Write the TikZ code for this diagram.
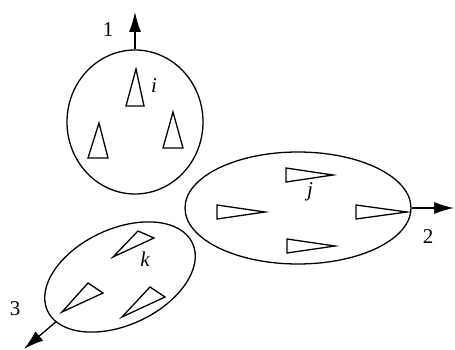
\documentclass[tikz,border=0pt]{standalone}
\usepackage{fontspec}
\setmainfont{Liberation Serif}
\usetikzlibrary{shapes.geometric,arrows.meta}
\begin{document}
\begin{tikzpicture}[x=1pt,y=-1pt,
  grp/.style={draw,ellipse,line width=1.3pt,inner sep=0pt},
  tri/.style={draw,line width=1.3pt,line join=miter},
  outarrow/.style={line width=1.3pt,-{Latex[length=20pt,width=12pt]}},
  lbl/.style={font=\fontsize{21}{23}\selectfont,inner sep=0pt}]
\useasboundingbox (0,0) rectangle (455,350);
% groups
\node[grp,minimum width=136pt,minimum height=144pt] (ei) at (135,122) {};
\node[grp,minimum width=226pt,minimum height=112pt] (ej) at (298,208) {};
\node[grp,minimum width=160pt,minimum height=96pt,rotate=25] (ek) at (120,277) {};
% arrow ends
\coordinate (o1) at (135,12);
\coordinate (o2) at (454,208);
\coordinate (o3) at (24,349);
\draw[outarrow] (ei.north) -- (o1);
\draw[outarrow] (ej.east) -- (o2);
\draw[outarrow] (ek.190) -- (o3);
% labels
\node[lbl] (l1) at (108,30) {1};
\node[lbl] (l2) at (428,237) {2};
\node[lbl] (l3) at (15,309) {3};
\node[lbl] (li) at (154,86) {\itshape i};
\node[lbl] (lj) at (310,192) {\itshape j};
\node[lbl] (lk) at (145,259) {\itshape k};
% triangles in i
\draw[tri] (136,69) -- (126,106) -- (144,106) -- cycle;
\draw[tri] (99,123) -- (88,158) -- (108,158) -- cycle;
\draw[tri] (173,112) -- (163,148) -- (183,148) -- cycle;
% triangles in j
\draw[tri] (333,175) -- (286,168) -- (286,182) -- cycle;
\draw[tri] (265,212) -- (217,205) -- (217,219) -- cycle;
\draw[tri] (407,212) -- (356,205) -- (356,219) -- cycle;
\draw[tri] (335,246) -- (287,239) -- (287,253) -- cycle;
% triangles in k
\draw[tri] (113,257) -- (138,231) -- (154,238) -- cycle;
\draw[tri] (62,312) -- (88,283) -- (103,293) -- cycle;
\draw[tri] (122,317) -- (150,287) -- (165,297) -- cycle;
\end{tikzpicture}
\end{document}
